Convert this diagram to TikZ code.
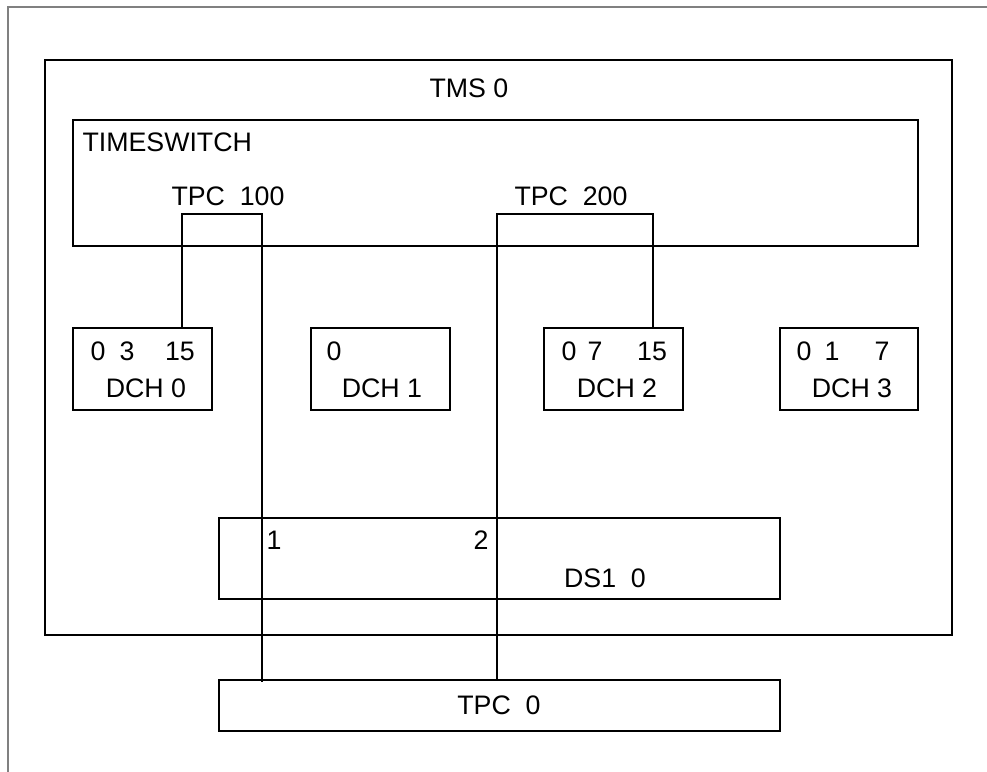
\documentclass[tikz,border=0pt]{standalone}
\usepackage{fontspec}
\setmainfont{Liberation Sans}
\usetikzlibrary{positioning}
\tikzset{
  unit/.style={rectangle,draw,line width=0.8pt,inner sep=0pt,anchor=north west},
  dch/.style={unit,minimum width=55.6pt,minimum height=32.8pt},
  lbl/.style={font=\fontsize{10.7}{12}\selectfont,inner sep=0pt},
  wire/.style={line width=0.8pt},
}
\begin{document}
\begin{tikzpicture}[x=0.4pt,y=-0.4pt]
  \useasboundingbox (0,0) rectangle (987,772);
  \draw[gray,line width=0.6pt] (8,772) -- (8,7) -- (987,7);

  % shelves
  \node[unit,minimum width=362.8pt,minimum height=230pt] (tms) at (44,59) {};
  \node[lbl] at (469,88) {TMS 0};
  \node[unit,minimum width=338pt,minimum height=50.4pt] (tsw) at (72,119) {};
  \node[lbl,anchor=west] at (82,142) {TIMESWITCH};
  \node[lbl] (tpcA) at (228,196) {TPC~~100};
  \node[lbl] (tpcB) at (571,196) {TPC~~200};

  % channel cards
  \node[dch] (dch0) at (72,327) {};
  \node[dch] (dch1) at (310,327) {};
  \node[dch] (dch2) at (543,327) {};
  \node[dch,minimum width=55.2pt] (dch3) at (779,327) {};
  \foreach \x/\t in {98/0,127/3,180/15,334/0,569/0,595/7,652/15,804/0,832/1,882/7}
    \node[lbl] at (\x,351) {\t};
  \node[lbl] at (146,388) {DCH 0};
  \node[lbl] at (382,388) {DCH 1};
  \node[lbl] at (617,388) {DCH 2};
  \node[lbl] at (852,388) {DCH 3};

  % trunks
  \node[unit,minimum width=224.4pt,minimum height=32.4pt] (ds1) at (218,517) {};
  \node[lbl] at (274,540) {1};
  \node[lbl] at (481,540) {2};
  \node[lbl] at (605,578) {DS1~~0};
  \node[unit,minimum width=224.4pt,minimum height=20.4pt] (tpc0) at (218,679) {};
  \node[lbl] at (499,705) {TPC~~0};

  % connections
  \coordinate (a1) at (182,214);
  \coordinate (a2) at (262,214);
  \coordinate (b1) at (497,214);
  \coordinate (b2) at (653,214);
  \draw[wire] (dch0.north -| a1) -- (a1) -- (a2) -- ([yshift=-1.2pt]tpc0.north -| a2);
  \draw[wire] (tpc0.north -| b1) -- (b1) -- (b2) -- (dch2.north -| b2);
\end{tikzpicture}
\end{document}
